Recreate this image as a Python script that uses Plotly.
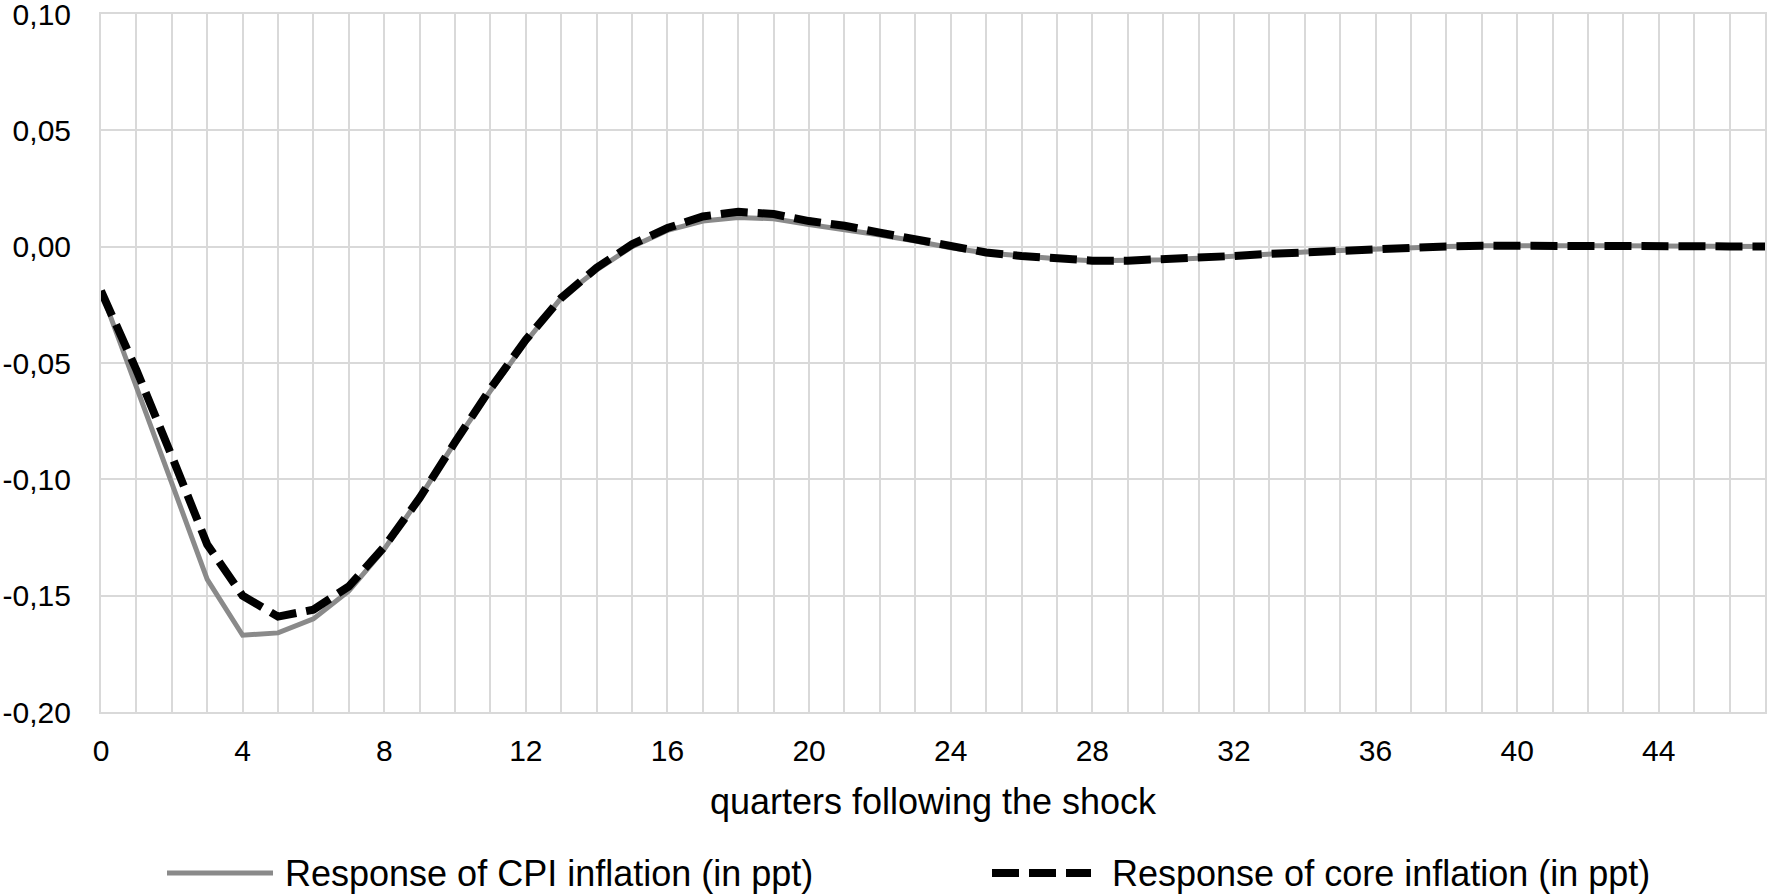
import plotly.graph_objects as go

quarters = list(range(48))
cpi = [-0.019, -0.060, -0.101, -0.143, -0.167, -0.166, -0.160, -0.148, -0.130, -0.108,
       -0.084, -0.062, -0.041, -0.022, -0.010, 0.000, 0.007, 0.011, 0.0125, 0.012,
       0.0095, 0.0074, 0.005, 0.0024, -0.0005, -0.0027, -0.0041, -0.0052, -0.006, -0.006,
       -0.0056, -0.005, -0.004, -0.0031, -0.0023, -0.0016, -0.0009, -0.0003, 0.0001, 0.0004,
       0.0005, 0.0005, 0.0005, 0.0004, 0.0003, 0.0002, 0.0001, 0.0001]
core = [-0.019, -0.053, -0.090, -0.128, -0.150, -0.159, -0.156, -0.146, -0.129, -0.108,
        -0.084, -0.061, -0.040, -0.022, -0.009, 0.001, 0.008, 0.013, 0.015, 0.014,
        0.011, 0.009, 0.006, 0.003, 0.000, -0.0025, -0.004, -0.0052, -0.006, -0.006,
        -0.0056, -0.005, -0.004, -0.0031, -0.0023, -0.0016, -0.0009, -0.0003, 0.0001, 0.0004,
        0.0005, 0.0005, 0.0005, 0.0004, 0.0003, 0.0002, 0.0001, 0.0001]
x_ticktext = [str(q) if q % 4 == 0 else "" for q in quarters]
y_tickvals = [-0.20, -0.15, -0.10, -0.05, 0.00, 0.05, 0.10]
y_ticktext = ["-0,20", "-0,15", "-0,10", "-0,05", "0,00", "0,05", "0,10"]

series_names = ["Response of CPI inflation (in ppt)", "Response of core inflation (in ppt)"]

W, H = 1768, 894
ML, MR, MT, MB = 101, 3, 14, 182
GREY = "#8a8a8a"
GRID = "#d9d9d9"
FONT = "Liberation Sans, Arial, sans-serif"

fig = go.Figure()
fig.add_trace(go.Scatter(x=quarters, y=cpi, mode="lines", name=series_names[0],
                         line=dict(color=GREY, width=5), showlegend=False))
fig.add_trace(go.Scatter(x=quarters, y=core, mode="lines", name=series_names[1],
                         line=dict(color="#000000", width=8, dash="27px,10px"), showlegend=False))

pw = W - ML - MR
ph = H - MT - MB
def px(x):
    return (x - ML) / pw
def py(y):
    return (H - MB - y) / ph

leg_y = 873
legend_items = [
    (167, 273, 283, GREY, 5, "solid", series_names[0]),
    (992, 1091, 1110, "#000000", 8, "27px,10px", series_names[1]),
]
for x0, x1, xt, col, w, dash, label in legend_items:
    fig.add_shape(type="line", xref="paper", yref="paper",
                  x0=px(x0), x1=px(x1), y0=py(leg_y), y1=py(leg_y),
                  line=dict(color=col, width=w, dash=dash))
    fig.add_annotation(xref="paper", yref="paper", x=px(xt), y=py(leg_y),
                       xanchor="left", yanchor="middle", text=label, showarrow=False,
                       font=dict(size=36, color="#000000", family=FONT))

fig.update_layout(
    width=W, height=H,
    margin=dict(l=ML, r=MR, t=MT, b=MB, autoexpand=False),
    paper_bgcolor="white", plot_bgcolor="white",
    font=dict(family=FONT, color="#000000"),
    showlegend=False,
)
fig.update_xaxes(
    range=[0, 47], tickmode="array", tickvals=quarters, ticktext=x_ticktext,
    showgrid=True, gridcolor=GRID, gridwidth=2, zeroline=False, automargin=False,
    showline=True, linecolor=GRID, linewidth=2, mirror=True,
    ticks="", ticklabelstandoff=11, ticklabeloverflow="allow",
    tickfont=dict(size=30, family=FONT, color="#000000"),
    title=dict(text="quarters following the shock", standoff=23,
               font=dict(size=36, family=FONT, color="#000000")),
)
fig.update_yaxes(
    range=[-0.20, 0.10], tickmode="array", tickvals=y_tickvals, ticktext=y_ticktext,
    showgrid=True, gridcolor=GRID, gridwidth=2, zeroline=True, zerolinecolor=GRID,
    zerolinewidth=2, showline=True, linecolor=GRID, linewidth=2, mirror=True,
    ticks="", ticklabelstandoff=22, automargin=False, ticklabeloverflow="allow",
    tickfont=dict(size=30, family=FONT, color="#000000"),
)

fig.write_html(
    "out.html",
    config={"displayModeBar": False},
    post_script="document.body.style.margin='0';document.body.style.overflow='hidden';",
)
